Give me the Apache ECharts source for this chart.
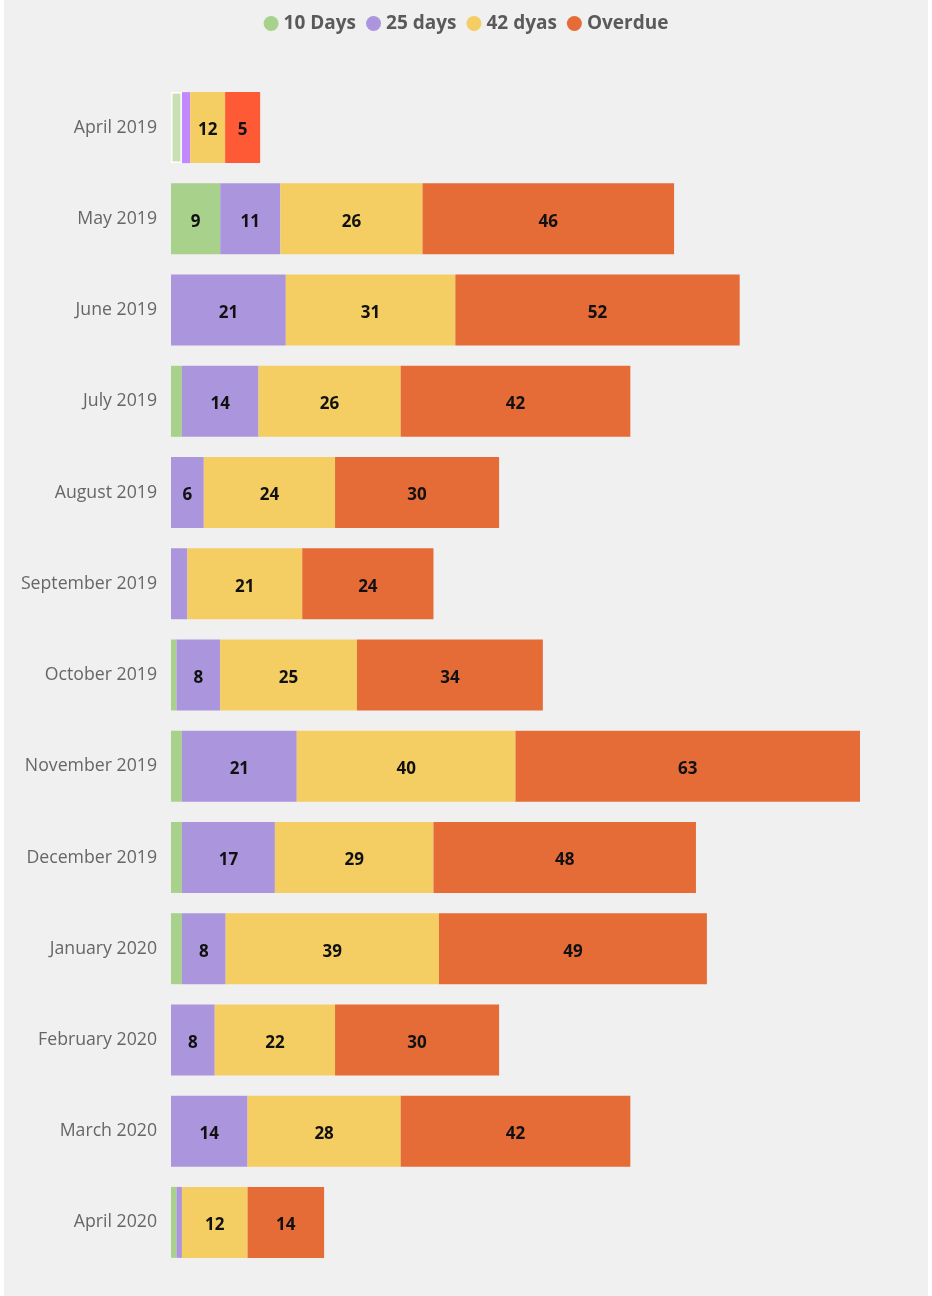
<!DOCTYPE html>
<html><head><meta charset="utf-8">
<script src="https://cdn.jsdelivr.net/npm/echarts@6/dist/echarts.min.js"></script>
<style>html,body{margin:0;padding:0;background:#fff;}#c{position:absolute;left:4px;top:0;width:924px;height:1296px;background:#f0f0f0;}</style>
</head><body><div id="c"></div>
<script>
const categories = ["April 2019","May 2019","June 2019","July 2019","August 2019","September 2019","October 2019","November 2019","December 2019","January 2020","February 2020","March 2020","April 2020"];
const seriesNames = ["10 Days","25 days","42 dyas","Overdue"];
const days10  = [2, 9, 0, 2, 0, 0, 1, 2, 2, 2, 0, 0, 1];
const days25  = [1.5, 11, 21, 14, 6, 3, 8, 21, 17, 8, 8, 14, 1];
const days42  = [6.4, 26, 31, 26, 24, 21, 25, 40, 29, 39, 22, 28, 12];
const overdue = [6.4, 46, 52, 42, 30, 24, 34, 63, 48, 49, 30, 42, 14];
const colors = ["#a8d18c","#ab96dd","#f4ce62","#e56b37"];
const hlColors = ["#c8e0b4","#c288ff","#f4ce62","#ff5a36"];
const aprLabels = ["", "", "12", "5"];
const values = [days10, days25, days42, overdue];

const chart = echarts.init(document.getElementById('c'));
const series = seriesNames.map((name, si) => ({
  name, type: 'bar', stack: 'total', barWidth: 71,
  itemStyle: { color: colors[si] },
  label: {
    show: true, position: 'inside', color: '#111', fontWeight: 'bold', fontSize: 17,
    fontFamily: 'Open Sans', offset: [0, 3],
    formatter: p => p.dataIndex === 0 ? aprLabels[si] : (p.value >= 5 ? String(p.value) : '')
  },
  data: values[si].map((v, i) => i === 0 ? {
    value: v,
    itemStyle: { color: hlColors[si], borderColor: '#ffffff', borderWidth: si === 0 ? 1.5 : 0 }
  } : v)
}));

chart.setOption({
  animation: false,
  color: colors,
  legend: {
    top: 9, left: 'center', itemGap: 10, icon: 'circle', itemWidth: 15, itemHeight: 15,
    textStyle: { fontSize: 19, fontWeight: 'bold', color: '#5a5a5a', fontFamily: 'Open Sans' },
    data: seriesNames
  },
  grid: { left: 167, right: 68, top: 82, bottom: 28 },
  xAxis: { type: 'value', min: 0, max: 126, show: false },
  yAxis: {
    type: 'category', inverse: true, data: categories,
    axisLine: { show: false }, axisTick: { show: false },
    axisLabel: { color: '#666', fontSize: 17.7, margin: 14, fontFamily: 'Open Sans', verticalAlign: 'middle' }
  },
  series
});
</script></body></html>
